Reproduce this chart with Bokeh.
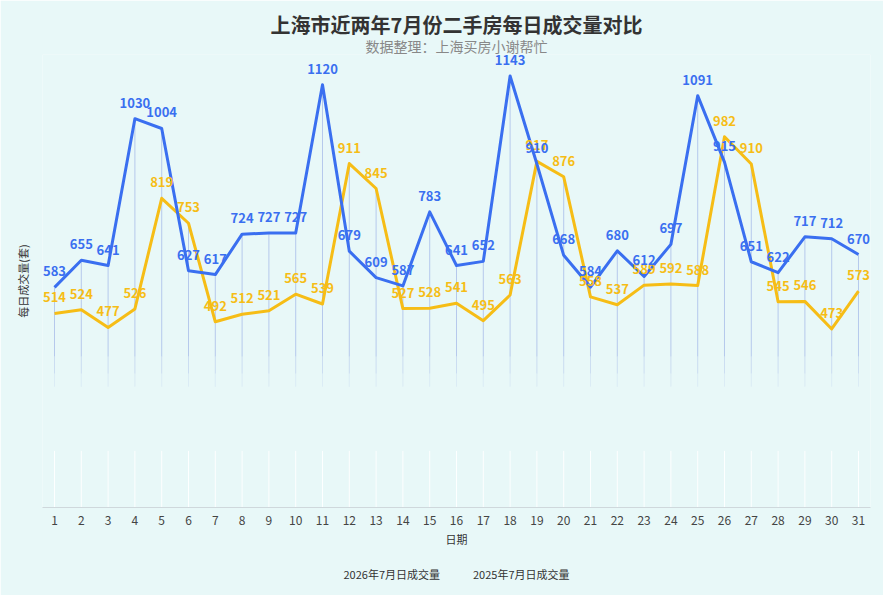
from bokeh.plotting import figure
from bokeh.models import Title, FixedTicker, Range1d
from bokeh.core.properties import value
from bokeh.embed import file_html
from bokeh.resources import INLINE

days = list(range(1, 32))
sales_2026 = [583, 655, 641, 1030, 1004, 627, 617, 724, 727, 727, 1120, 679, 609, 587, 783, 641,
              652, 1143, 910, 668, 584, 680, 612, 697, 1091, 915, 651, 622, 717, 712, 670]
sales_2025 = [514, 524, 477, 526, 819, 753, 492, 512, 521, 565, 539, 911, 845, 527, 528, 541,
              495, 563, 917, 876, 558, 537, 589, 592, 588, 982, 910, 545, 546, 473, 573]
name_2026 = "2026年7月日成交量"
name_2025 = "2025年7月日成交量"
title_text = "上海市近两年7月份二手房每日成交量对比"
subtitle_text = "数据整理：上海买房小谢帮忙"
x_label = "日期"
y_label = "每日成交量(套)"

BG = "#e8f8f8"
BLUE = "#3a6ff0"
YELLOW = "#f6bd16"
FONT = "Noto Sans CJK SC"

p = figure(width=883, height=595, output_backend="svg", toolbar_location=None,
           x_range=Range1d(0.552, 31.448), y_range=Range1d(0, 1200),
           min_border_left=42, min_border_right=13, min_border_top=54, min_border_bottom=0)
p.background_fill_color = BG
p.border_fill_color = BG
p.outline_line_color = None
p.xgrid.visible = False
p.ygrid.visible = False

# main title (outer) and subtitle (closest to plot)
p.title.text = title_text
p.title.align = "center"
p.title.text_font = FONT
p.title.text_font_size = "20px"
p.title.text_font_style = "bold"
p.title.text_color = "#333333"
p.title.standoff = -7
sub = Title(text=subtitle_text, align="center", text_font=FONT, text_font_size="14px",
            text_font_style="normal", text_color="#888888", standoff=-3)
p.add_layout(sub, "above")

mx = [max(a, b) for a, b in zip(sales_2026, sales_2025)]
# faint white grid lines at the bottom
p.segment(x0=days, y0=[0] * 31, x1=days, y1=[150] * 31, line_color="white", line_width=1, line_alpha=0.9)
# drop lines fading
p.segment(x0=days, y0=[400] * 31, x1=days, y1=mx, line_color="#a9bde9", line_width=1, line_alpha=0.8)
p.segment(x0=days, y0=[355] * 31, x1=days, y1=[400] * 31, line_color="#a9bde9", line_width=1, line_alpha=0.45)
p.segment(x0=days, y0=[320] * 31, x1=days, y1=[355] * 31, line_color="#a9bde9", line_width=1, line_alpha=0.2)

p.line(days, sales_2025, line_color=YELLOW, line_width=3, line_join="round")
p.line(days, sales_2026, line_color=BLUE, line_width=3, line_join="round")

p.text(x=days, y=sales_2025, text=[str(v) for v in sales_2025], text_color=YELLOW,
       text_font=value(FONT), text_font_size="13px", text_font_style="bold",
       text_align="center", text_baseline="bottom", y_offset=-11)
p.text(x=days, y=sales_2026, text=[str(v) for v in sales_2026], text_color=BLUE,
       text_font=value(FONT), text_font_size="13px", text_font_style="bold",
       text_align="center", text_baseline="bottom", y_offset=-11)

xa = p.xaxis[0]
xa.ticker = FixedTicker(ticks=days)
xa.major_tick_line_color = None
xa.minor_tick_line_color = None
xa.axis_line_color = "#cfd8dc"
xa.major_label_text_font = FONT
xa.major_label_text_font_size = "12px"
xa.major_label_text_color = "#444444"
xa.major_label_standoff = 2
xa.axis_label = x_label
xa.axis_label_text_font = FONT
xa.axis_label_text_font_size = "11px"
xa.axis_label_text_font_style = "normal"
xa.axis_label_text_color = "#333333"
xa.axis_label_standoff = 3

ya = p.yaxis[0]
ya.ticker = FixedTicker(ticks=[])
ya.major_tick_line_color = None
ya.minor_tick_line_color = None
ya.axis_line_color = None
ya.major_label_text_font_size = "0px"
ya.axis_label = y_label
ya.axis_label_text_font = FONT
ya.axis_label_text_font_size = "11px"
ya.axis_label_text_font_style = "normal"
ya.axis_label_text_color = "#333333"
ya.axis_label_standoff = 12

spacer = Title(text="", text_font_size="1px", standoff=5)
p.add_layout(spacer, "below")
legend_text = name_2026 + "\u3000\u3000\u3000" + name_2025
leg = Title(text=legend_text, align="center", text_font=FONT, text_font_size="11px",
            text_font_style="normal", text_color="#333333", standoff=28)
p.add_layout(leg, "below")

open("out.html", "w").write(file_html(p, INLINE))
